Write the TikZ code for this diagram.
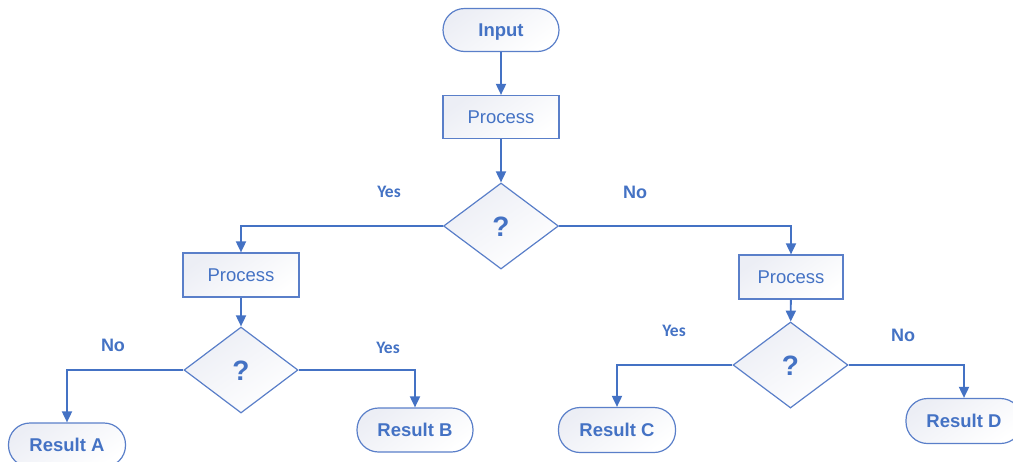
\documentclass[tikz,border=0pt]{standalone}
\usepackage{fontspec}
\setmainfont{Liberation Sans}
\newfontfamily\labelfont{Carlito}
\usetikzlibrary{shapes.geometric,arrows.meta}
\definecolor{flowblue}{HTML}{4472C4}
\definecolor{edgeblue}{HTML}{5A7FC9}
\definecolor{shadetop}{HTML}{ECEEF5}
\tikzset{
  boxbase/.style={draw=edgeblue, line width=1.2pt, text=flowblue, inner sep=0pt,
    top color=shadetop, bottom color=white, shading angle=35,
    text height=13.3pt, text depth=0pt},
  terminal/.style={boxbase, rectangle, rounded corners=21.5pt,
    minimum width=116pt, minimum height=43pt, font=\fontsize{18.5}{20}\selectfont\bfseries},
  procbox/.style={boxbase, rectangle, minimum height=43pt,
    font=\fontsize{18.5}{20}\selectfont},
  decision/.style={boxbase, diamond, minimum width=115pt, minimum height=86pt,
    text height=20pt, font=\fontsize{28}{30}\selectfont\bfseries},
  flow/.style={draw=flowblue, line width=1.8pt,
    -{Triangle[length=11pt,width=10pt]}},
  yeslabel/.style={text=flowblue, inner sep=0pt, font=\labelfont\fontsize{17.5}{19}\selectfont\bfseries},
  nolabel/.style={text=flowblue, inner sep=0pt, font=\fontsize{18}{19}\selectfont\bfseries}
}
\begin{document}
\begin{tikzpicture}[x=1pt, y=-1pt]
  \useasboundingbox (0,0) rectangle (1013,461);
  \clip (0,0) rectangle (1013,461);

  % main trunk
  \node[terminal] (in) at (501,30) {Input};
  \node[procbox, minimum width=116pt] (p1) at (501,117) {Process};
  \node[decision] (d1) at (501,226) {?};

  % left branch
  \node[procbox, minimum width=116pt, minimum height=44pt] (p2) at (241,275) {Process};
  \node[decision, minimum width=114pt] (d2) at (241,370) {?};
  \node[terminal, minimum width=117pt, minimum height=44pt] (ra) at (67,445) {Result A};
  \node[terminal, minimum height=44pt] (rb) at (415,430) {Result B};

  % right branch
  \node[procbox, minimum width=104pt, minimum height=44pt] (p3) at (791,277) {Process};
  \node[decision] (d3) at (790.5,365) {?};
  \node[terminal, minimum width=117pt, minimum height=45pt] (rc) at (617,430) {Result C};
  \node[terminal, minimum height=45pt] (rd) at (964,421) {Result D};

  % branch labels
  \node[yeslabel] (l1) at (389,192) {Yes};
  \node[nolabel]  (l2) at (635,192) {No};
  \node[nolabel]  (l3) at (113,345) {No};
  \node[yeslabel] (l4) at (388,348) {Yes};
  \node[yeslabel] (l5) at (674,331) {Yes};
  \node[nolabel]  (l6) at (903,335) {No};

  % connectors
  \draw[flow] (in) -- (p1);
  \draw[flow] (p1) -- (d1);
  \draw[flow] (d1.west) -| (p2.north);
  \draw[flow] (d1.east) -| (p3.north);
  \draw[flow] (p2) -- (d2);
  \draw[flow] (d2.west) -| (ra.north);
  \draw[flow] (d2.east) -| (rb.north);
  \draw[flow] (p3) -- (d3);
  \draw[flow] (d3.west) -| (rc.north);
  \draw[flow] (d3.east) -| (rd.north);
\end{tikzpicture}
\end{document}
